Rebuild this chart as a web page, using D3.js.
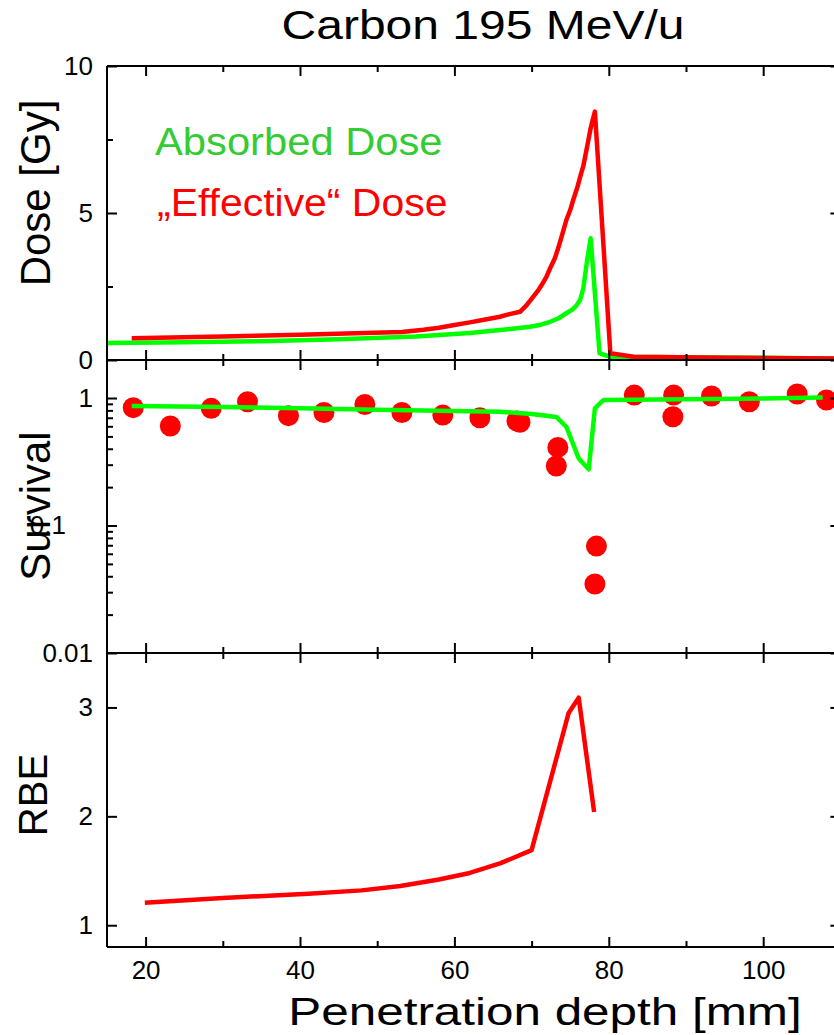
<!DOCTYPE html>
<html><head><meta charset="utf-8">
<script src="https://cdn.jsdelivr.net/npm/d3@7"></script>
<style>body{margin:0;background:#fff}svg{display:block}text{font-family:"Liberation Sans",Arial,sans-serif}</style>
</head><body>
<svg id="c" width="834" height="1035"></svg>
<script>
// ---- data ----
const absorbedDepth = [15, 25, 35, 45, 55, 62, 65.9, 69.8, 71.2, 72.4, 73.5, 74.5, 75.3, 75.8, 76.3, 76.7, 77.2, 77.65, 78.8, 80.2, 90, 100, 110];
const absorbedDose  = [0.58, 0.6, 0.64, 0.71, 0.8, 0.92, 1.02, 1.13, 1.2, 1.30, 1.42, 1.59, 1.72, 1.85, 2.05, 2.44, 3.40, 4.14, 0.23, 0.11, 0.09, 0.08, 0.05];
const effectiveDepth = [18.2, 30, 40, 53.2, 56, 58, 60, 62, 64, 65.9, 67, 68.5, 69.3, 70.2, 70.8, 71.3, 71.9, 72.4, 73, 73.5, 74, 74.5, 75, 75.4, 75.9, 76.3, 76.7, 77.0, 77.3, 77.6, 77.9, 78.2, 80.2, 83.2, 95, 110];
const effectiveDose  = [0.74, 0.8, 0.86, 0.95, 1.03, 1.1, 1.19, 1.28, 1.38, 1.47, 1.55, 1.64, 1.85, 2.15, 2.35, 2.55, 2.82, 3.12, 3.45, 3.85, 4.3, 4.76, 5.1, 5.45, 5.85, 6.24, 6.6, 7.0, 7.4, 7.82, 8.15, 8.45, 0.23, 0.11, 0.08, 0.05];
const survivalLineDepth = [18.2, 30, 40, 50, 60, 65.9, 70, 73.2, 74.5, 76.1, 77.4, 78.2, 79.3, 90, 100, 107.7];
const survivalLine      = [0.865, 0.85, 0.83, 0.81, 0.79, 0.78, 0.75, 0.71, 0.595, 0.336, 0.276, 0.83, 0.965, 0.98, 0.99, 1.01];
const survivalPtsDepth = [18.4, 23.2, 28.5, 33.2, 38.5, 43.1, 48.4, 53.2, 58.5, 63.3, 68.1, 68.5, 73.4, 73.2, 78.4, 78.2, 83.3, 88.4, 88.3, 93.3, 98.2, 104.4, 108.2];
const survivalPts      = [0.84, 0.603, 0.83, 0.935, 0.727, 0.77, 0.89, 0.77, 0.735, 0.70, 0.66, 0.645, 0.41, 0.293, 0.069, 0.0348, 1.055, 1.055, 0.713, 1.037, 0.935, 1.075, 0.965];
const rbeDepth = [19.9, 30, 41.1, 48, 53, 58, 62, 66, 70, 74.8, 76.1, 78.1];
const rbe      = [1.206, 1.25, 1.29, 1.32, 1.36, 1.42, 1.48, 1.57, 1.69, 2.95, 3.09, 2.04];
const xMajorTicks = [20, 40, 60, 80, 100];
const xMinorTicks = [30, 50, 70, 90, 110];
const doseTicks = [0, 5, 10];
const doseMinor = [2.5, 7.5];
const survTicks = [0.01, 0.1, 1];
const survTickLabels = ["0.01", "0.1", "1"];
const survMinor = [0.02,0.03,0.04,0.05,0.06,0.07,0.08,0.09,0.2,0.3,0.4,0.5,0.6,0.7,0.8,0.9];
const rbeTicks = [1, 2, 3];
const titleText = "Carbon 195 MeV/u";
const xLabel = "Penetration depth [mm]";
const legendAbsorbed = "Absorbed Dose";
const legendEffective = "\u201EEffective\u201C Dose";

// ---- layout ----
const svg = d3.select("#c");
const L = 107, R = 840.4;
const T1 = 66, B1 = 360, B2 = 653, B3 = 947;
const x = d3.scaleLinear().domain([15, 110]).range([L, R]);
const yDose = d3.scaleLinear().domain([0, 10]).range([B1, T1]);
const ySurv = d3.scaleLog().domain([0.01, 1.987]).range([B2, B1]);
const yRbe = d3.scaleLinear().domain([0.8, 3.5]).range([B3, B2]);

const RED = "#ff0000", GREEN = "#00ff00";

function drawLine(xs, ys, yScale, color) {
  const data = xs.map((d, i) => [d, ys[i]]);
  svg.append("path").datum(data)
    .attr("fill", "none").attr("stroke", color).attr("stroke-width", 4.5)
    .attr("stroke-linejoin", "round")
    .attr("d", d3.line().x(d => x(d[0])).y(d => yScale(d[1])));
}
drawLine(absorbedDepth, absorbedDose, yDose, GREEN);
drawLine(effectiveDepth, effectiveDose, yDose, RED);
svg.append("g").selectAll("circle")
  .data(survivalPtsDepth.map((d, i) => [d, survivalPts[i]]))
  .join("circle").attr("cx", d => x(d[0])).attr("cy", d => ySurv(d[1]))
  .attr("r", 10.5).attr("fill", RED);
drawLine(survivalLineDepth, survivalLine, ySurv, GREEN);
drawLine(rbeDepth, rbe, yRbe, RED);

function styleAxis(g) {
  g.select(".domain").remove();
  g.selectAll("line").attr("stroke", "#000").attr("stroke-width", 2);
  g.selectAll("text").attr("font-size", 26).attr("fill", "#000")
    .attr("font-family", "'Liberation Sans', Arial, sans-serif");
}
function yAxis(scale, major, minor, fmt) {
  const gl = svg.append("g").attr("transform", `translate(${L},0)`)
    .call(d3.axisLeft(scale).tickValues(major).tickSize(-10).tickPadding(14).tickFormat(fmt));
  styleAxis(gl);
  if (minor) {
    const gm = svg.append("g").attr("transform", `translate(${L},0)`)
      .call(d3.axisLeft(scale).tickValues(minor).tickSize(-6).tickFormat(""));
    styleAxis(gm);
  }
  const gr = svg.append("g").attr("transform", `translate(${R},0)`)
    .call(d3.axisRight(scale).tickValues(major).tickSize(-10).tickFormat(""));
  styleAxis(gr);
  if (minor) {
    const gr2 = svg.append("g").attr("transform", `translate(${R},0)`)
      .call(d3.axisRight(scale).tickValues(minor).tickSize(-6).tickFormat(""));
    styleAxis(gr2);
  }
  return gl;
}
yAxis(yDose, doseTicks, doseMinor, d => d);
const survAxis = yAxis(ySurv, survTicks, survMinor, (d, i) => survTickLabels[i]);
// the "0.1" label sits further left in the reference
survAxis.selectAll(".tick text").filter(d => d === 0.1).attr("x", -41);
yAxis(yRbe, rbeTicks, null, d => d);

function xTicks(yPos, dir, withLabels) {
  const parts = [];
  if (dir === "down" || dir === "both") parts.push("top");
  if (dir === "up" || dir === "both") parts.push("bottom");
  parts.forEach(p => {
    const mk = p === "bottom" ? d3.axisTop : d3.axisBottom;
    const g1 = svg.append("g").attr("transform", `translate(0,${yPos})`)
      .call(mk(x).tickValues(xMajorTicks).tickSize(10).tickFormat(""));
    styleAxis(g1);
    const g2 = svg.append("g").attr("transform", `translate(0,${yPos})`)
      .call(mk(x).tickValues(xMinorTicks).tickSize(6).tickFormat(""));
    styleAxis(g2);
  });
  if (withLabels) {
    const gl = svg.append("g").attr("transform", `translate(0,${yPos})`)
      .call(d3.axisBottom(x).tickValues(xMajorTicks).tickSize(0).tickPadding(14).tickFormat(d => d));
    styleAxis(gl);
    gl.selectAll("line").remove();
  }
}
xTicks(T1, "down", false);
xTicks(B1, "both", false);
xTicks(B2, "both", false);
xTicks(B3, "up", true);

const frame = svg.append("g").attr("stroke", "#000").attr("stroke-width", 2);
frame.append("line").attr("x1", L).attr("x2", L).attr("y1", T1).attr("y2", B3);
frame.append("line").attr("x1", R).attr("x2", R).attr("y1", T1).attr("y2", B3);
[T1, B1, B2, B3].forEach(yy => frame.append("line").attr("x1", L).attr("x2", R).attr("y1", yy).attr("y2", yy));

// text
svg.append("text").attr("transform", "translate(483,39) scale(1.2,1)")
  .attr("text-anchor", "middle").attr("font-size", 40).text(titleText);
svg.append("text").attr("transform", "translate(545,1025) scale(1.3,1)")
  .attr("text-anchor", "middle").attr("font-size", 38).text(xLabel);
svg.append("text").attr("transform", "translate(50,193) rotate(-90)")
  .attr("text-anchor", "middle").attr("font-size", 42).text("Dose [Gy]");
svg.append("text").attr("transform", "translate(50,506) rotate(-90)")
  .attr("text-anchor", "middle").attr("font-size", 42).text("Survival");
svg.append("text").attr("transform", "translate(47,795) rotate(-90)")
  .attr("text-anchor", "middle").attr("font-size", 40).text("RBE");
svg.append("text").attr("transform", "translate(155,155) scale(1.07,1)")
  .attr("font-size", 39).attr("fill", "#33cc33").text(legendAbsorbed);
svg.append("text").attr("transform", "translate(157,216) scale(1.05,1)")
  .attr("font-size", 39).attr("fill", RED).text(legendEffective);
</script>
</body></html>
